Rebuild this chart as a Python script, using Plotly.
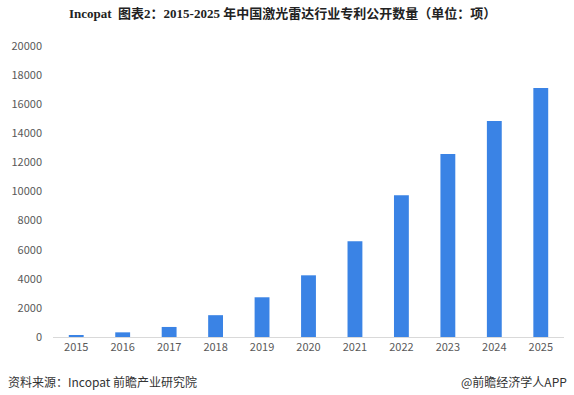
import plotly.graph_objects as go

years = ["2015", "2016", "2017", "2018", "2019", "2020", "2021", "2022", "2023", "2024", "2025"]
patents = [130, 320, 690, 1500, 2730, 4240, 6580, 9750, 12570, 14840, 17110]
y_ticks = [0, 2000, 4000, 6000, 8000, 10000, 12000, 14000, 16000, 18000, 20000]

title_text = "Incopat  图表2：2015-2025 年中国激光雷达行业专利公开数量（单位：项）"
source_text = "资料来源：Incopat 前瞻产业研究院"
brand_text = "@前瞻经济学人APP"

W, H = 574, 395
ML, MR, MT, MB = 53, 10, 46, 58
plot_h = H - MT - MB
plot_w = W - ML - MR


def py(pix):
    return (H - MB - pix) / plot_h


def px(pix):
    return (pix - ML) / plot_w


fig = go.Figure()
fig.add_trace(go.Bar(x=years, y=patents, marker=dict(color="#3A83E5", line=dict(width=0)),
                     width=0.32))

fig.update_layout(
    width=W, height=H,
    margin=dict(l=ML, r=MR, t=MT, b=MB, pad=0),
    paper_bgcolor="white", plot_bgcolor="white",
    showlegend=False,
    font=dict(family="Noto Sans CJK SC, sans-serif", color="#595959", size=11),
    xaxis=dict(type="category", showgrid=False, showline=True, linecolor="#D9D9D9", linewidth=1,
               ticks="", tickfont=dict(size=11, color="#595959"), zeroline=False),
    yaxis=dict(range=[0, 20000], tickvals=y_ticks, ticktext=[str(v) for v in y_ticks],
               showgrid=False, showline=False, zeroline=False, ticks="",
               ticklabelstandoff=10,
               tickfont=dict(size=11, color="#595959")),
)

fig.add_annotation(text="<b>" + title_text + "</b>", x=px(282), y=py(14), xref="paper", yref="paper",
                   showarrow=False, xanchor="center", yanchor="middle",
                   font=dict(family="Liberation Serif, Noto Sans CJK SC, serif", size=13, color="#222222"))
fig.add_annotation(text=source_text, x=px(6), y=py(381), xref="paper", yref="paper",
                   showarrow=False, xanchor="left", yanchor="middle",
                   font=dict(size=12, color="#333333"))
fig.add_annotation(text=brand_text, x=px(569), y=py(381), xref="paper", yref="paper",
                   showarrow=False, xanchor="right", yanchor="middle",
                   font=dict(size=12, color="#333333"))

fig.write_html("out.html", config={"displayModeBar": False},
               post_script="document.body.style.margin='0px';")
